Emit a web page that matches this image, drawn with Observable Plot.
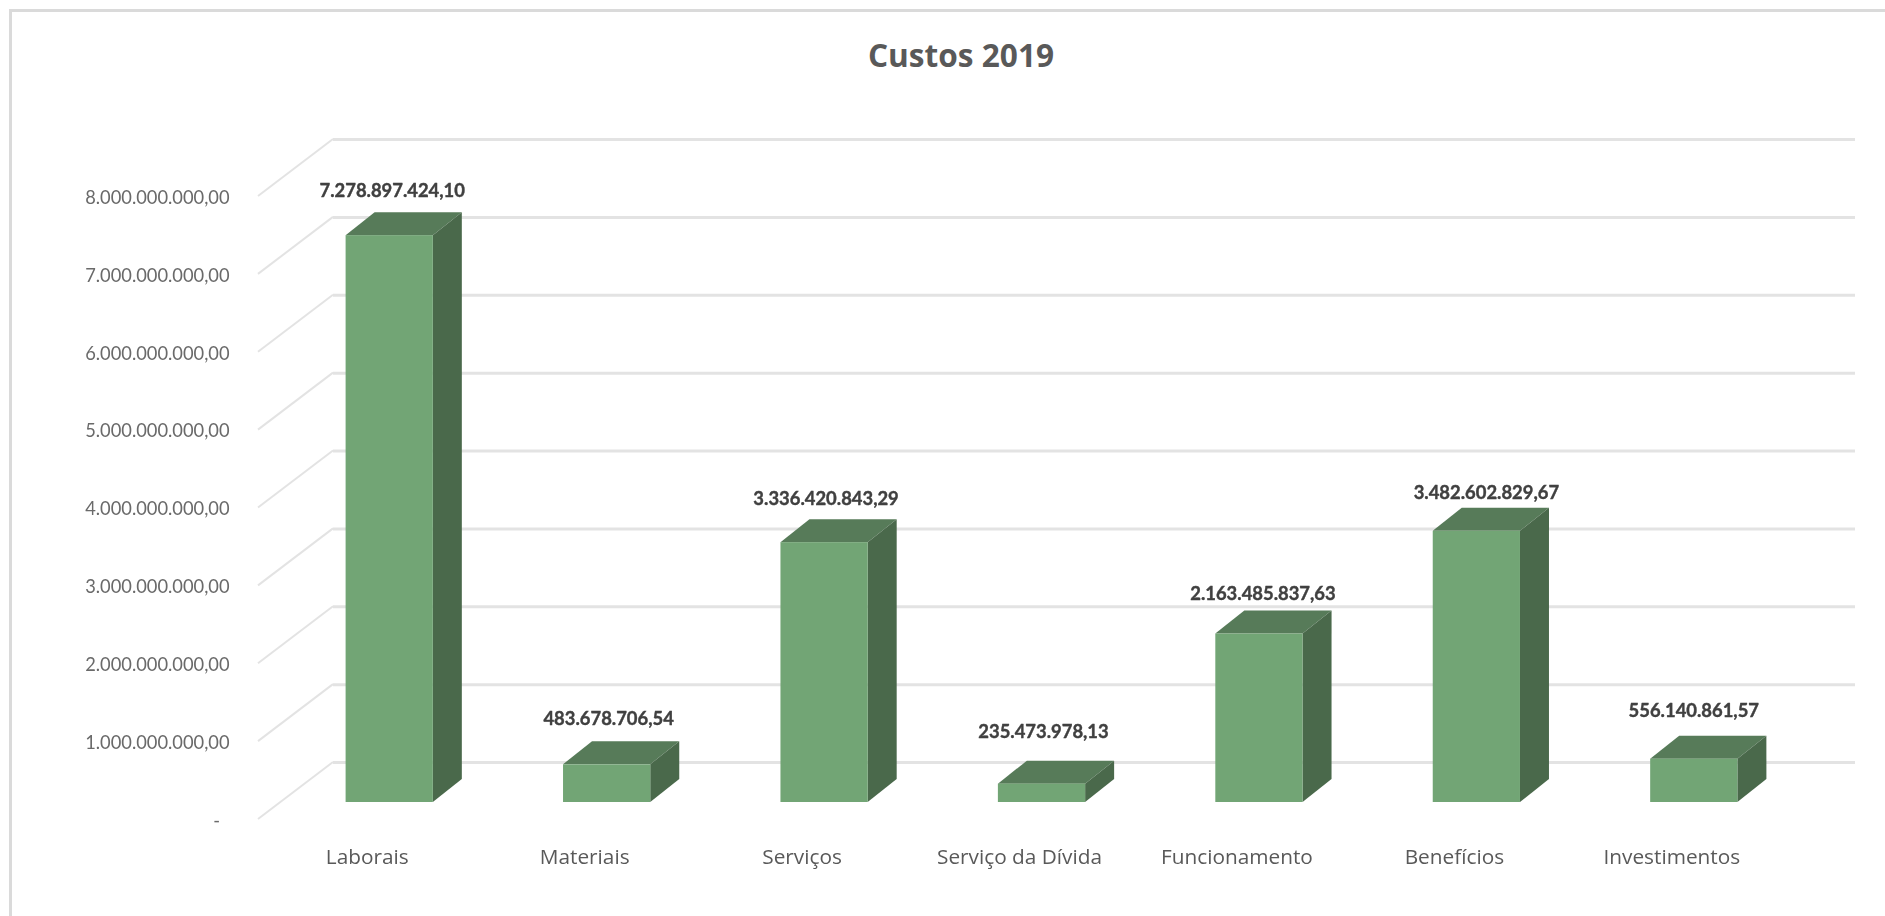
<!DOCTYPE html>
<html lang="pt">
<head>
<meta charset="utf-8">
<script src="https://cdn.jsdelivr.net/npm/d3@7"></script>
<script src="https://cdn.jsdelivr.net/npm/@observablehq/plot@0.6"></script>
<style>
  html, body { margin: 0; padding: 0; background: #fff; overflow: hidden; }
  #frame { position: absolute; left: 9px; top: 9px; right: 0; bottom: 0;
           border-top: 3px solid #dadada; border-left: 3px solid #dadada; }
  #title { position: absolute; left: 1px; top: 0; width: 1920px; height: 90px;
           text-align: center; font: bold 31.6px "Open Sans", sans-serif; line-height: 110px; color: #595959; }
  #chart { position: absolute; left: 0; top: 90px; }
  #chart svg { filter: blur(0.45px); }
</style>
</head>
<body>
<div id="frame"></div>
<div id="title">Custos 2019</div>
<div id="chart"></div>
<script>
const categories = ["Laborais", "Materiais", "Serviços", "Serviço da Dívida", "Funcionamento", "Benefícios", "Investimentos"];
const values = [7278897424.10, 483678706.54, 3336420843.29, 235473978.13, 2163485837.63, 3482602829.67, 556140861.57];
const valueLabels = ["7.278.897.424,10", "483.678.706,54", "3.336.420.843,29", "235.473.978,13", "2.163.485.837,63", "3.482.602.829,67", "556.140.861,57"];
const yTicks = [0, 1e9, 2e9, 3e9, 4e9, 5e9, 6e9, 7e9, 8e9];

const labelNudgeX = [1, 0, 0, 0, 2, 8, -2];
const labelNudgeY = [1, 0, 2, -6, 6, 8, -2];

const data = categories.map((c, i) => ({category: c, value: values[i], label: valueLabels[i], nx: labelNudgeX[i], ny: labelNudgeY[i]}));

const wall = {dx: 75, dy: -57};
const bar = {inset: 65.1, dx: 22.5, dy: -17, depthX: 29, depthY: -23};
const colors = {front: "#72a575", top: "#577b59", side: "#4a694b", grid: "#e3e3e3", tick: "#6a6a6a", label: "#404040", cat: "#595959"};

const nf = d3.formatLocale({decimal: ",", thousands: ".", grouping: [3]}).format(",.2f");

function sideWall(index, {y}, values, {marginLeft}) {
  const g = d3.create("svg:g").attr("fill", "none").attr("stroke", colors.grid).attr("stroke-width", 2);
  g.selectAll("path").data(yTicks).join("path")
    .attr("d", (t) => `M${marginLeft},${y(t)}l${wall.dx},${wall.dy}`);
  return g.node();
}

function barSides(index, {x, y}) {
  const w = x.bandwidth() - 2 * bar.inset;
  const g = d3.create("svg:g");
  const left = (d) => x(d.category) + bar.inset + bar.dx;
  const top = (d) => y(d.value) + bar.dy;
  const base = y(0) + bar.dy;
  g.selectAll(".top").data(data).join("path").attr("class", "top").attr("fill", colors.top)
    .attr("d", (d) => `M${left(d)},${top(d)}l${bar.depthX},${bar.depthY}h${w}l${-bar.depthX},${-bar.depthY}z`);
  g.selectAll(".side").data(data).join("path").attr("class", "side").attr("fill", colors.side)
    .attr("d", (d) => `M${left(d) + w},${top(d)}l${bar.depthX},${bar.depthY}V${base + bar.depthY}l${-bar.depthX},${-bar.depthY}z`);
  return g.node();
}

const chart = Plot.plot({
  width: 1885,
  height: 826,
  marginLeft: 258,
  marginRight: 105,
  marginTop: 106,
  marginBottom: 97,
  style: {fontFamily: "Lato, sans-serif", background: "transparent", overflow: "visible"},
  x: {type: "band", domain: categories, padding: 0, round: false, label: null},
  y: {domain: [0, 8e9], label: null},
  marks: [
    sideWall,
    Plot.ruleY(yTicks, {stroke: colors.grid, strokeWidth: 3, dx: wall.dx, dy: wall.dy}),
    barSides,
    Plot.barY(data, {x: "category", y: "value", fill: colors.front, insetLeft: bar.inset, insetRight: bar.inset, dx: bar.dx, dy: bar.dy}),
    data.map((d) => Plot.text([d], {x: "category", y: "value", text: "label", dx: 24 + d.nx, dy: -63 + d.ny, fill: colors.label, stroke: colors.label, strokeWidth: 0.4, fontWeight: "bold", fontSize: 18.4, fontFamily: "Lato, sans-serif"})),
    Plot.axisY(yTicks, {anchor: "left", tickSize: 0, tickPadding: 29, dy: 1.5, fontSize: 18.3, fill: colors.tick, label: null,
      tickFormat: (d) => d === 0 ? "-\u00a0\u00a0" : nf(d)}),
    Plot.axisX({anchor: "bottom", tickSize: 0, tickPadding: 30, fontSize: 20.8, fill: colors.cat, label: null, fontFamily: "Open Sans, sans-serif"})
  ]
});
document.getElementById("chart").append(chart);
</script>
</body>
</html>
